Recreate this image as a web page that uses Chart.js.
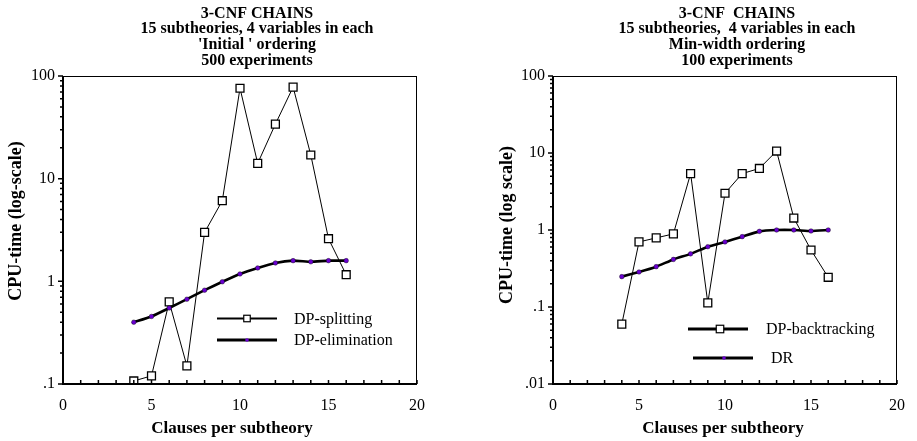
<!DOCTYPE html>
<html>
<head>
<meta charset="utf-8">
<script src="https://cdn.jsdelivr.net/npm/chart.js@4/dist/chart.umd.min.js"></script>
<style>
  body { margin: 0; background: #fff; }
  .wrap { position: absolute; top: 0; }
</style>
</head>
<body>
<div class="wrap" style="left:0"><canvas id="leftChart" width="460" height="441"></canvas></div>
<div class="wrap" style="left:460px"><canvas id="rightChart" width="457" height="441"></canvas></div>
<script>
// данные
const clauses = [4, 5, 6, 7, 8, 9, 10, 11, 12, 13, 14, 15, 16];

const dpSplitting = [0.107, 0.12, 0.63, 0.15, 3.0, 6.1, 76, 14.1, 34, 78, 17, 2.6, 1.16];
const dpElimination = [0.40, 0.455, 0.55, 0.67, 0.82, 0.99, 1.18, 1.35, 1.51, 1.59, 1.55, 1.59, 1.59];

const dpBacktracking = [0.06, 0.70, 0.79, 0.89, 5.4, 0.113, 3.0, 5.4, 6.3, 10.6, 1.43, 0.55, 0.243];
const dr = [0.248, 0.285, 0.334, 0.415, 0.49, 0.607, 0.70, 0.82, 0.96, 1.0, 1.0, 0.97, 1.0];

const xTicks = [0, 5, 10, 15, 20];
const leftYTicks = [0.1, 1, 10, 100];
const leftYLabels = [".1", "1", "10", "100"];
const rightYTicks = [0.01, 0.1, 1, 10, 100];
const rightYLabels = [".01", ".1", "1", "10", "100"];

const leftTitle = ["3-CNF CHAINS", "15 subtheories, 4 variables in each", "'Initial ' ordering", "500 experiments"];
const rightTitle = ["3-CNF  CHAINS", "15 subtheories,  4 variables in each", "Min-width ordering", "100 experiments"];

const SERIF = "'Liberation Serif', 'Times New Roman', serif";
const PURPLE = "#6a00d0";

Chart.defaults.color = "#000";
Chart.defaults.font.family = SERIF;

function toPoints(values) {
  return values.map((v, i) => ({ x: clauses[i], y: v }));
}

// заголовок, подписи осей, рамка, засечки, легенда
const paperPlugin = {
  id: "paper",
  afterDraw(chart, args, opts) {
    const ctx = chart.ctx;
    const a = chart.chartArea;
    const xs = chart.scales.x;
    const ys = chart.scales.y;
    ctx.save();

    // заголовок
    ctx.fillStyle = "#000";
    ctx.font = "bold 16px " + SERIF;
    ctx.textAlign = "center";
    ctx.textBaseline = "middle";
    opts.title.forEach((line, i) => ctx.fillText(line, opts.titleX, 13.5 + i * 15.8));

    // подписи осей
    ctx.font = "bold 17px " + SERIF;
    ctx.fillText("Clauses per subtheory", opts.xTitleX, 429);
    ctx.save();
    ctx.translate(opts.yTitleX, opts.yTitleY);
    ctx.rotate(-Math.PI / 2);
    ctx.font = "bold 18px " + SERIF;
    ctx.fillText(opts.yTitle, 0, 0);
    ctx.restore();

    // рамка
    ctx.strokeStyle = "#000";
    ctx.lineWidth = 1;
    ctx.strokeRect(a.left + 0.5, a.top + 0.5, a.right - a.left - 1, a.bottom - a.top);
    ctx.lineWidth = 2;
    ctx.beginPath();
    ctx.moveTo(a.left, a.top);
    ctx.lineTo(a.left, a.bottom);
    ctx.lineTo(a.right, a.bottom);
    ctx.stroke();

    // засечки по x
    ctx.lineWidth = 1.5;
    ctx.beginPath();
    for (let v = xs.min; v <= xs.max; v++) {
      const px = xs.getPixelForValue(v);
      ctx.moveTo(px, a.bottom);
      ctx.lineTo(px, a.bottom - 4);
    }
    ctx.stroke();

    // засечки по y (логарифм)
    ctx.beginPath();
    for (let d = ys.min; d < ys.max * 0.999; d *= 10) {
      for (let m = 1; m < 10; m++) {
        const py = ys.getPixelForValue(d * m);
        ctx.moveTo(a.left, py);
        ctx.lineTo(a.left - (m === 1 ? 5 : 3), py);
      }
    }
    ctx.moveTo(a.left, a.top);
    ctx.lineTo(a.left - 5, a.top);
    ctx.stroke();

    // легенда
    opts.legend.forEach((item) => {
      ctx.strokeStyle = "#000";
      ctx.lineWidth = item.width;
      ctx.beginPath();
      ctx.moveTo(item.x1, item.y);
      ctx.lineTo(item.x2, item.y);
      ctx.stroke();
      const mx = item.mx;
      if (item.marker === "square") {
        ctx.fillStyle = "#fff";
        ctx.lineWidth = 1.2;
        ctx.fillRect(mx - item.size / 2, item.y - item.size / 2, item.size, item.size);
        ctx.strokeRect(mx - item.size / 2, item.y - item.size / 2, item.size, item.size);
      } else {
        ctx.fillStyle = PURPLE;
        ctx.beginPath();
        ctx.arc(mx, item.y, 1.8, 0, Math.PI * 2);
        ctx.fill();
      }
      ctx.fillStyle = "#000";
      ctx.font = "16px " + SERIF;
      ctx.textAlign = "left";
      ctx.textBaseline = "middle";
      ctx.fillText(item.label, item.tx, item.y + 1);
    });

    ctx.restore();
  },
};

function makeChart(canvas, cfg) {
  return new Chart(canvas, {
    type: "line",
    data: {
      datasets: [
        {
          label: cfg.names[0],
          data: toPoints(cfg.squares),
          borderColor: "#000",
          borderWidth: 1,
          pointStyle: "rect",
          pointRadius: 5.6,
          pointBackgroundColor: "#fff",
          pointBorderColor: "#000",
          pointBorderWidth: 1.3,
          tension: 0,
          order: 2,
        },
        {
          label: cfg.names[1],
          data: toPoints(cfg.dots),
          borderColor: "#000",
          borderWidth: 2.6,
          pointRadius: 2.3,
          pointBackgroundColor: PURPLE,
          pointBorderColor: "#000",
          pointBorderWidth: 0.4,
          tension: 0.15,
          order: 1,
        },
      ],
    },
    options: {
      responsive: false,
      animation: false,
      devicePixelRatio: 1,
      layout: { padding: { left: cfg.padLeft, right: cfg.padRight, top: 76, bottom: 0 } },
      plugins: {
        legend: { display: false },
        tooltip: { enabled: false },
        paper: {
          title: cfg.title,
          titleX: cfg.titleX,
          legend: cfg.legend,
          yTitle: cfg.yTitle,
          yTitleX: cfg.yTitleX,
          yTitleY: cfg.yTitleY,
          xTitleX: cfg.xTitleX,
        },
      },
      scales: {
        x: {
          type: "linear",
          min: 0,
          max: 20,
          grid: { display: false, drawTicks: false },
          border: { display: false },
          afterBuildTicks: (s) => { s.ticks = xTicks.map((v) => ({ value: v })); },
          afterFit: (s) => { s.height = 57; },
          ticks: { font: { size: 16 }, padding: 12, maxRotation: 0 },
        },
        y: {
          type: "logarithmic",
          min: cfg.yTicks[0],
          max: cfg.yTicks[cfg.yTicks.length - 1],
          grid: { display: false, drawTicks: false },
          border: { display: false },
          afterBuildTicks: (s) => { s.ticks = cfg.yTicks.map((v) => ({ value: v })); },
          afterFit: (s) => { s.width = 63; },
          ticks: {
            font: { size: 16 },
            padding: 8,
            callback: (v, i) => cfg.yLabels[i],
          },
        },
      },
    },
    plugins: [paperPlugin],
  });
}

makeChart(document.getElementById("leftChart"), {
  names: ["DP-splitting", "DP-elimination"],
  squares: dpSplitting,
  dots: dpElimination,
  yTicks: leftYTicks,
  yLabels: leftYLabels,
  yTitle: "CPU-time (log-scale)",
  yTitleX: 16,
  yTitleY: 221,
  xTitleX: 232,
  title: leftTitle,
  titleX: 257,
  padLeft: 0,
  padRight: 43,
  legend: [
    { label: "DP-splitting", marker: "square", size: 6.5, width: 2, x1: 217, x2: 277, mx: 247, y: 318.5, tx: 294 },
    { label: "DP-elimination", marker: "dot", width: 3, x1: 217, x2: 277, mx: 247, y: 340, tx: 294 },
  ],
});

makeChart(document.getElementById("rightChart"), {
  names: ["DP-backtracking", "DR"],
  squares: dpBacktracking,
  dots: dr,
  yTicks: rightYTicks,
  yLabels: rightYLabels,
  yTitle: "CPU-time (log scale)",
  yTitleX: 47,
  yTitleY: 225,
  xTitleX: 263,
  title: rightTitle,
  titleX: 277,
  padLeft: 30,
  padRight: 11,
  legend: [
    { label: "DP-backtracking", marker: "square", size: 7.5, width: 3, x1: 228, x2: 288, mx: 260, y: 329, tx: 306 },
    { label: "DR", marker: "dot", width: 3, x1: 233, x2: 293, mx: 264, y: 358, tx: 311 },
  ],
});
</script>
</body>
</html>
